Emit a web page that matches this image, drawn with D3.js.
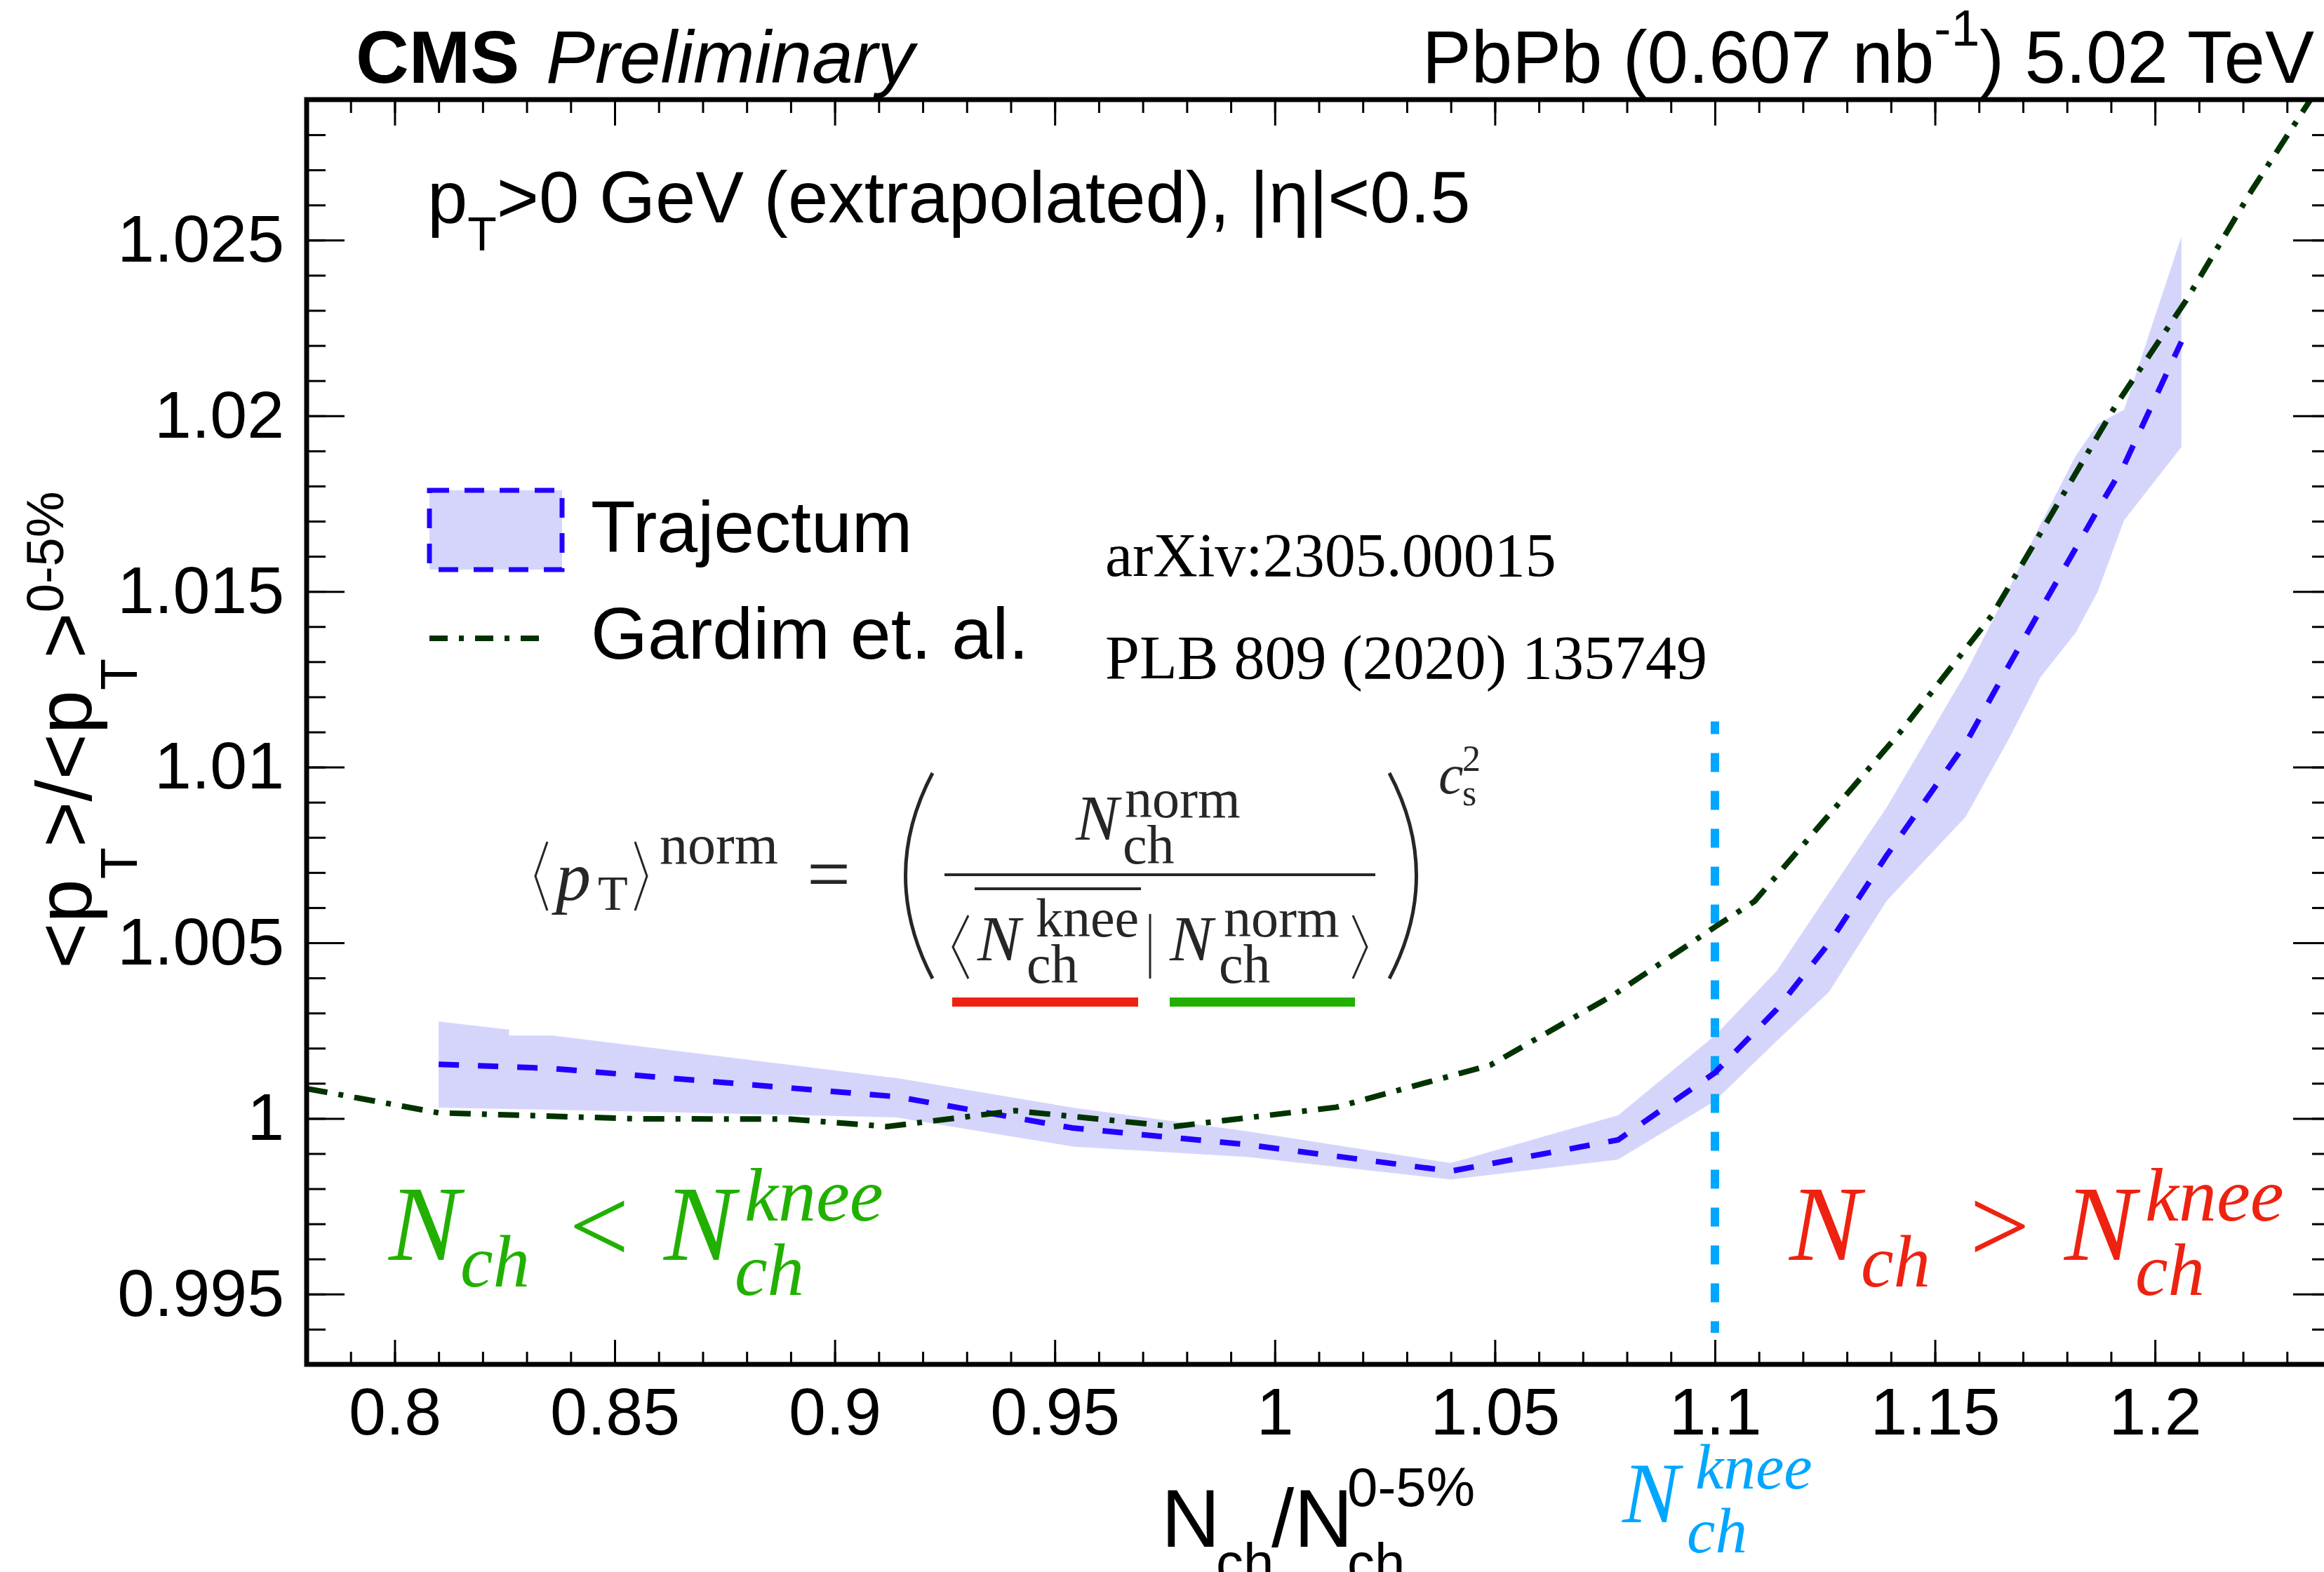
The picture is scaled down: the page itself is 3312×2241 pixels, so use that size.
<!DOCTYPE html>
<html lang="en">

<head>
    <meta charset="UTF-8">
    <title>CMS Preliminary - mean pT ratio vs Nch</title>
    <style>
        body { margin: 0; background: #fff; }
    </style>
</head>

<body>
    <script src="https://cdn.jsdelivr.net/npm/d3@7"></script>
    <script>
        // tick labels
        const xTicks = [0.8, 0.85, 0.9, 0.95, 1, 1.05, 1.1, 1.15, 1.2];
        const xTickLabels = ['0.8', '0.85', '0.9', '0.95', '1', '1.05', '1.1', '1.15', '1.2'];
        const yTicks = [0.995, 1, 1.005, 1.01, 1.015, 1.02, 1.025];
        const yTickLabels = ['0.995', '1', '1.005', '1.01', '1.015', '1.02', '1.025'];

        // Trajectum: central curve and band
        const trajX = [0.810, 0.826, 0.826, 0.836, 0.914, 0.954, 0.994, 1.040, 1.078, 1.100, 1.114, 1.126, 1.139, 1.157, 1.167, 1.174, 1.182, 1.187, 1.193, 1.206];
        const trajMid = [1.00154, 1.00147, 1.00147, 1.00142, 1.00062, 0.99973, 0.99925, 0.99850, 0.99939, 1.00130, 1.00310, 1.00500, 1.00748, 1.01068, 1.01294, 1.01448, 1.01623, 1.01733, 1.01860, 1.02211];
        const trajLow = [1.00031, 1.00027, 1.00027, 1.00025, 1.00003, 0.99920, 0.99890, 0.99826, 0.99883, 1.00050, 1.00220, 1.00361, 1.00619, 1.00859, 1.01085, 1.01256, 1.01383, 1.01500, 1.01703, 1.01911];
        const trajHigh = [1.00276, 1.00253, 1.00236, 1.00236, 1.00115, 1.00031, 0.99963, 0.99873, 1.00009, 1.00236, 1.00419, 1.00644, 1.00885, 1.01268, 1.01513, 1.01692, 1.01886, 1.01977, 1.02018, 1.02510];

        // Gardim et al.
        const gardimX = [0.780, 0.810, 0.855, 0.890, 0.912, 0.941, 0.977, 1.014, 1.049, 1.077, 1.100, 1.109, 1.142, 1.163, 1.191, 1.207, 1.222, 1.240];
        const gardimY = [1.00085, 1.00016, 0.99999, 0.99998, 0.99977, 1.00022, 0.99977, 1.00032, 1.00152, 1.00352, 1.00545, 1.00618, 1.01098, 1.01433, 1.02028, 1.02327, 1.02642, 1.02990];

        // knee position
        const kneeX = 1.1;
        const kneeY = [0.9939, 1.0113];

        const w = 3312;
        const h = 2241;
        const pLeft = 437, pRight = 3322, pTop = 142, pBottom = 1945;
        const sans = "'Liberation Sans', Arial, Helvetica, sans-serif";
        const serif = "'Liberation Serif', 'Times New Roman', serif";

        const xScale = d3.scaleLinear().domain([0.78, 1.24]).range([pLeft, pRight]);
        const yScale = d3.scaleLinear().domain([0.993, 1.029]).range([pBottom, pTop]);

        const svg = d3.select('body')
            .append('svg')
            .attr('width', w)
            .attr('height', h)
            .style('font-family', sans);

        svg.append('defs').append('clipPath').attr('id', 'plot')
            .append('rect')
            .attr('x', pLeft).attr('y', pTop)
            .attr('width', pRight - pLeft).attr('height', pBottom - pTop);

        const plot = svg.append('g').attr('clip-path', 'url(#plot)');
        const idx = d3.range(trajX.length);

        // band
        plot.append('path')
            .datum(idx)
            .attr('d', d3.area()
                .x(i => xScale(trajX[i]))
                .y0(i => yScale(trajLow[i]))
                .y1(i => yScale(trajHigh[i])))
            .attr('fill', '#d5d5fc');

        // knee line
        plot.append('line')
            .attr('x1', xScale(kneeX)).attr('x2', xScale(kneeX))
            .attr('y1', yScale(kneeY[1])).attr('y2', yScale(kneeY[0]))
            .attr('stroke', '#00a6ff')
            .attr('stroke-width', 12)
            .attr('stroke-dasharray', '27 27')
            .attr('stroke-dashoffset', 9);

        // Trajectum central
        plot.append('path')
            .datum(idx)
            .attr('d', d3.line().x(i => xScale(trajX[i])).y(i => yScale(trajMid[i])))
            .attr('fill', 'none')
            .attr('stroke', '#2200ff')
            .attr('stroke-width', 8)
            .attr('stroke-dasharray', '29 27');

        // Gardim
        plot.append('path')
            .datum(d3.range(gardimX.length))
            .attr('d', d3.line().x(i => xScale(gardimX[i])).y(i => yScale(gardimY[i])))
            .attr('fill', 'none')
            .attr('stroke', '#003300')
            .attr('stroke-width', 8)
            .attr('stroke-dasharray', '30 16 7 16');

        // axes
        const xMinor = d3.range(78, 125).map(v => v / 100);
        const yMinor = d3.range(993, 1030).map(v => v / 1000);

        function styleAxis(g) {
            g.select('.domain').remove();
            g.selectAll('line').attr('stroke', '#000').attr('stroke-width', 3);
            g.selectAll('text').attr('fill', '#000');
            g.attr('font-size', 95).attr('font-family', sans);
        }

        svg.append('g').attr('transform', `translate(0,${pBottom})`)
            .call(d3.axisBottom(xScale).tickValues(xMinor).tickSize(-18).tickFormat(''))
            .call(styleAxis);
        svg.append('g').attr('transform', `translate(0,${pBottom})`)
            .call(d3.axisBottom(xScale).tickValues(xTicks).tickSize(-35).tickPadding(33)
                .tickFormat((d, i) => xTickLabels[i]))
            .call(styleAxis);
        svg.append('g').attr('transform', `translate(0,${pTop})`)
            .call(d3.axisTop(xScale).tickValues(xMinor).tickSize(-19).tickFormat(''))
            .call(styleAxis);
        svg.append('g').attr('transform', `translate(0,${pTop})`)
            .call(d3.axisTop(xScale).tickValues(xTicks).tickSize(-37).tickFormat(''))
            .call(styleAxis);

        svg.append('g').attr('transform', `translate(${pLeft},0)`)
            .call(d3.axisLeft(yScale).tickValues(yMinor).tickSize(-27).tickFormat(''))
            .call(styleAxis);
        svg.append('g').attr('transform', `translate(${pLeft},0)`)
            .call(d3.axisLeft(yScale).tickValues(yTicks).tickSize(-54).tickPadding(32)
                .tickFormat((d, i) => yTickLabels[i]))
            .call(styleAxis);
        svg.append('g').attr('transform', `translate(${pRight},0)`)
            .call(d3.axisRight(yScale).tickValues(yMinor).tickSize(-27).tickFormat(''))
            .call(styleAxis);
        svg.append('g').attr('transform', `translate(${pRight},0)`)
            .call(d3.axisRight(yScale).tickValues(yTicks).tickSize(-54).tickFormat(''))
            .call(styleAxis);

        svg.append('rect')
            .attr('x', pLeft).attr('y', pTop)
            .attr('width', pRight - pLeft).attr('height', pBottom - pTop)
            .attr('fill', 'none').attr('stroke', '#000').attr('stroke-width', 7);

        // axis titles
        const xt = svg.append('text').attr('y', 2205).attr('font-size', 116);
        xt.append('tspan').attr('x', 1655).text('N');
        xt.append('tspan').attr('x', 1733).attr('y', 2255).attr('font-size', 78).text('ch');
        xt.append('tspan').attr('x', 1812).attr('y', 2205).text('/N');
        xt.append('tspan').attr('x', 1920).attr('y', 2255).attr('font-size', 78).text('ch');
        xt.append('tspan').attr('x', 1920).attr('y', 2147).attr('font-size', 78).text('0-5%');

        const yt = svg.append('text')
            .attr('transform', 'translate(130,1381) rotate(-90)')
            .attr('font-size', 112);
        yt.append('tspan').text('<p');
        yt.append('tspan').attr('dy', 65).attr('font-size', 74).text('T');
        yt.append('tspan').attr('dy', -65).text('>/<p');
        yt.append('tspan').attr('dy', 65).attr('font-size', 74).text('T');
        yt.append('tspan').attr('dy', -65).text('>');
        yt.append('tspan').attr('dy', -40).attr('font-size', 74).text('0-5%');

        // header
        const hl = svg.append('text').attr('x', 507).attr('y', 118).attr('font-size', 105);
        hl.append('tspan').attr('font-weight', 'bold').text('CMS');
        hl.append('tspan').attr('x', 778).attr('font-style', 'italic').text('Preliminary');

        const hr = svg.append('text').attr('x', 3298).attr('y', 118)
            .attr('font-size', 105).attr('text-anchor', 'end');
        hr.append('tspan').text('PbPb (0.607 nb');
        hr.append('tspan').attr('dy', -53).attr('font-size', 73).text('-1');
        hr.append('tspan').attr('dy', 53).text(') 5.02 TeV');

        const pt = svg.append('text').attr('x', 609).attr('y', 317).attr('font-size', 103);
        pt.append('tspan').text('p');
        pt.append('tspan').attr('dy', 40).attr('font-size', 68).text('T');
        pt.append('tspan').attr('dy', -40).text('>0 GeV (extrapolated), |η|<0.5');

        // legend
        svg.append('rect')
            .attr('x', 612).attr('y', 699).attr('width', 189).attr('height', 113)
            .attr('fill', '#d5d5fc').attr('stroke', '#2200ff')
            .attr('stroke-width', 7).attr('stroke-dasharray', '28 22');
        svg.append('text').attr('x', 842).attr('y', 787).attr('font-size', 104).text('Trajectum');
        svg.append('line')
            .attr('x1', 612).attr('x2', 783).attr('y1', 910).attr('y2', 910)
            .attr('stroke', '#003300').attr('stroke-width', 8)
            .attr('stroke-dasharray', '26 16 7 16');
        svg.append('text').attr('x', 842).attr('y', 939).attr('font-size', 104).text('Gardim et. al.');

        svg.append('text').attr('x', 1575).attr('y', 821).attr('font-size', 88)
            .attr('font-family', serif).text('arXiv:2305.00015');
        svg.append('text').attr('x', 1575).attr('y', 967).attr('font-size', 88)
            .attr('font-family', serif).text('PLB 809 (2020) 135749');

        // formula
        const ink = '#262626';
        const fm = svg.append('g').attr('font-family', serif).attr('fill', ink);
        const ftxt = (x, y, size, s, italic) => fm.append('text')
            .attr('x', x).attr('y', y).attr('font-size', size)
            .attr('font-style', italic ? 'italic' : 'normal').text(s);
        ftxt(792, 1283, 100, 'p', true);
        ftxt(852, 1297, 70, 'T', false);
        ftxt(940, 1231, 80, 'norm', false);
        ftxt(1150, 1283, 110, '=', false);
        ftxt(1533, 1197, 92, 'N', true);
        ftxt(1603, 1165, 78, 'norm', false);
        ftxt(1600, 1231, 78, 'ch', false);
        ftxt(1393, 1369, 92, 'N', true);
        ftxt(1476, 1335, 78, 'knee', false);
        ftxt(1463, 1401, 78, 'ch', false);
        ftxt(1667, 1369, 92, 'N', true);
        ftxt(1744, 1335, 78, 'norm', false);
        ftxt(1737, 1401, 78, 'ch', false);
        ftxt(2050, 1131, 80, 'c', true);
        ftxt(2084, 1099, 52, '2', false);
        ftxt(2084, 1148, 52, 's', false);

        const fpath = (d, sw) => fm.append('path').attr('d', d)
            .attr('fill', 'none').attr('stroke', ink).attr('stroke-width', sw);
        fpath('M780,1200 L763,1249 L780,1298', 3);
        fpath('M905,1200 L922,1249 L905,1298', 3);
        fpath('M1329,1102 Q1252,1248 1329,1395', 5);
        fpath('M1980,1102 Q2057,1248 1980,1395', 5);
        fpath('M1346,1247 H1960', 4);
        fpath('M1389,1267 H1626', 4);
        fpath('M1380,1305 L1358,1350 L1380,1395', 3);
        fpath('M1928,1305 L1948,1350 L1928,1395', 3);
        fpath('M1639,1303 V1395', 3);

        svg.append('rect').attr('x', 1357).attr('y', 1422).attr('width', 265).attr('height', 13).attr('fill', '#ee2211');
        svg.append('rect').attr('x', 1667).attr('y', 1422).attr('width', 264).attr('height', 13).attr('fill', '#22b000');

        // region labels
        function nLabel(color, x0, rel) {
            const g = svg.append('g').attr('font-family', serif).attr('fill', color);
            const t = (x, y, size, s, italic) => g.append('text')
                .attr('x', x).attr('y', y).attr('font-size', size)
                .attr('font-style', italic ? 'italic' : 'normal').text(s);
            t(x0, 1796, 152, 'N', true);
            t(x0 + 102, 1834, 105, 'ch', true);
            t(x0 + 257, 1799, 152, rel, false);
            t(x0 + 392, 1796, 152, 'N', true);
            t(x0 + 507, 1740, 108, 'knee', true);
            t(x0 + 493, 1846, 105, 'ch', true);
        }
        nLabel('#22b000', 554, '<');
        nLabel('#ee2211', 2550, '>');

        const kn = svg.append('g').attr('font-family', serif).attr('fill', '#00a6ff').attr('font-style', 'italic');
        kn.append('text').attr('x', 2312).attr('y', 2170).attr('font-size', 122).text('N');
        kn.append('text').attr('x', 2416).attr('y', 2122).attr('font-size', 91).text('knee');
        kn.append('text').attr('x', 2404).attr('y', 2213).attr('font-size', 91).text('ch');
    </script>
</body>

</html>
